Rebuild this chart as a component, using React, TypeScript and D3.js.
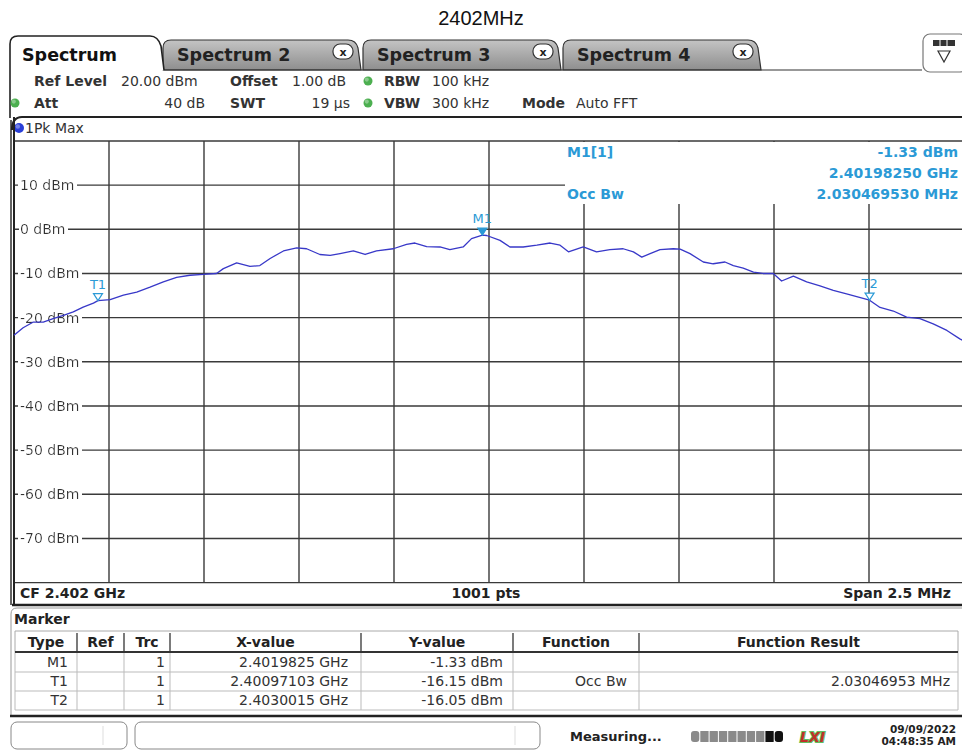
import * as d3 from 'd3';

// trace: offset from CF in MHz, level in dBm
const traceMHz = [
  -1.25, -1.226, -1.199, -1.173, -1.147, -1.12, -1.094, -1.068, -1.041, -1.029,
  -0.997, -0.962, -0.927, -0.892, -0.857, -0.822, -0.787, -0.752, -0.717, -0.699,
  -0.664, -0.629, -0.603, -0.576, -0.541, -0.506, -0.48, -0.445, -0.418, -0.392,
  -0.357, -0.326, -0.296, -0.252, -0.217, -0.195, -0.164, -0.129, -0.103, -0.068,
  -0.046, -0.0175, -0.006, 0.029, 0.055, 0.09, 0.126, 0.161, 0.187, 0.209,
  0.248, 0.283, 0.318, 0.353, 0.38, 0.402, 0.424, 0.45, 0.485, 0.503,
  0.529, 0.564, 0.59, 0.621, 0.643, 0.669, 0.696, 0.721, 0.748, 0.77,
  0.801, 0.836, 0.871, 0.906, 0.941, 1.0015, 1.029, 1.064, 1.099, 1.134,
  1.169, 1.205, 1.239, 1.25,
];
const traceDbm = [
  -24.0, -22.3, -21.0, -21.0, -20.2, -19.5, -18.7, -17.6, -16.7, -16.15,
  -15.9, -14.9, -14.2, -13.1, -11.9, -10.9, -10.4, -10.2, -10.0, -8.9,
  -7.6, -8.4, -8.2, -6.6, -4.9, -4.2, -4.4, -5.7, -5.9, -5.5,
  -4.9, -5.7, -4.9, -4.4, -3.4, -3.1, -3.9, -4.0, -4.6, -4.0,
  -2.1, -1.33, -1.4, -2.5, -4.0, -4.0, -3.6, -3.1, -3.6, -5.1,
  -4.0, -5.1, -4.6, -4.4, -5.1, -6.3, -5.5, -4.6, -4.4, -4.5,
  -5.5, -7.4, -7.8, -7.4, -8.2, -8.8, -9.7, -10.0, -10.0, -11.7,
  -10.6, -11.9, -12.8, -13.8, -14.6, -16.05, -17.7, -18.5, -19.9, -20.2,
  -21.4, -22.9, -24.8, -25.3,
];

const levelTicks = [10, 0, -10, -20, -30, -40, -50, -60, -70];
const levelGrid = [20, 10, 0, -10, -20, -30, -40, -50, -60, -70, -80];
const freqGrid = [-1.0, -0.75, -0.5, -0.25, 0, 0.25, 0.5, 0.75, 1.0];

const centerGHz = 2.402;
const markerNames = ['M1', 'T1', 'T2'];
const markerGHz = [2.4019825, 2.40097103, 2.4030015];
const markerDbm = [-1.33, -16.15, -16.05];
const markerXText = ['2.4019825 GHz', '2.40097103 GHz', '2.4030015 GHz'];
const markerYText = ['-1.33 dBm', '-16.15 dBm', '-16.05 dBm'];
const markerFunc = ['', 'Occ Bw', ''];
const markerResult = ['', '2.03046953 MHz', ''];

const tableHeaders = ['Type', 'Ref', 'Trc', 'X-value', 'Y-value', 'Function', 'Function Result'];
const tabNames = ['Spectrum', 'Spectrum 2', 'Spectrum 3', 'Spectrum 4'];

const font = 'DejaVu Sans, Verdana, sans-serif';
const markerBlue = '#2b9ad6';
const traceBlue = '#3838c8';
const grid = '#3a3a3a';
const textGray = '#333';

function Dot({ cx, cy, color, r = 4.5 }: { cx: number; cy: number; color: string; r?: number }) {
  return (
    <g>
      <circle cx={cx} cy={cy} r={r} fill={color} />
      <circle cx={cx - 1.2} cy={cy - 1.4} r={r * 0.45} fill="#fff" opacity={0.35} />
    </g>
  );
}

export default function App() {
  const W = 962;
  const H = 751;
  const x = d3.scaleLinear([-1.25, 1.25], [14, 964]);
  const y = d3.scaleLinear([-80, 20], [582.6, 141]);
  const points = traceMHz.map((f, i) => [f, traceDbm[i]] as [number, number]);
  const line = d3
    .line<[number, number]>()
    .x((d) => x(d[0]))
    .y((d) => y(d[1]));

  const mx = (g: number) => x((g - centerGHz) * 1000);

  const grayTabs = [163, 363, 563];
  const colEdges = [15, 77, 124, 170, 361, 513, 639, 958];
  const colRight = [68, 114, 165, 348, 503, 627, 950];
  const rowBase = [667, 686, 705];
  const rowLines = [672, 691, 710];

  return (
    <svg
      width={W}
      height={H}
      viewBox={`0 0 ${W} ${H}`}
      style={{ position: 'absolute', left: 0, top: 0, background: '#fff' }}
      fontFamily={font}
    >
      <defs>
        <linearGradient id="tabGray" x1="0" y1="0" x2="0" y2="1">
          <stop offset="0" stopColor="#c4c4c4" />
          <stop offset="1" stopColor="#8e8e8e" />
        </linearGradient>
        <filter id="labelBg" x="-0.02" y="0" width="1.06" height="1">
          <feFlood floodColor="#fff" />
          <feComposite in="SourceGraphic" operator="over" />
        </filter>
      </defs>

      <text x={481} y={25} textAnchor="middle" fontFamily="Liberation Sans, Arial, sans-serif" fontSize={20} fill="#111">
        2402MHz
      </text>

      {/* tabs */}
      {grayTabs.map((x0, i) => {
        const x1 = x0 + 197;
        return (
          <g key={i}>
            <path
              d={`M${x0},70 L${x0},48 Q${x0},40 ${x0 + 8},40 L${x1 - 12},40 Q${x1 - 4},40 ${x1 - 2},48 L${x1 + 1},70 Z`}
              fill="url(#tabGray)"
              stroke="#333"
              strokeWidth={1.2}
            />
            <text x={x0 + 14} y={61} fontSize={17.5} fontWeight="bold" fill="#222">
              {tabNames[i + 1]}
            </text>
            <rect x={x0 + 170} y={44} width={20} height={15} rx={7} fill="#fff" stroke="#333" strokeWidth={1.2} />
            <text x={x0 + 180} y={55.5} textAnchor="middle" fontSize={11} fontWeight="bold" fill="#222">
              x
            </text>
          </g>
        );
      })}
      <line x1={163} x2={922} y1={70} y2={70} stroke="#333" strokeWidth={1.2} />
      <path d="M10,118 L10,44 Q10,36 18,36 L150,36 Q158,36 161,46 L164,70" fill="#fff" stroke="#222" strokeWidth={1.6} />
      <text x={22} y={61} fontSize={17.5} fontWeight="bold" fill="#111">
        {tabNames[0]}
      </text>

      {/* display config icon */}
      <rect x={923} y={34} width={44} height={38} rx={7} fill="#fff" stroke="#777" strokeWidth={1.2} />
      <rect x={933} y={40} width={22} height={6} fill="#333" />
      <line x1={940} x2={940} y1={40} y2={46} stroke="#fff" strokeWidth={1} />
      <line x1={947} x2={947} y1={40} y2={46} stroke="#fff" strokeWidth={1} />
      <path d="M938,51 L950,51 L944,62 Z" fill="none" stroke="#333" strokeWidth={1.2} />

      {/* setting lines */}
      <g fontSize={14} fill={textGray}>
        <text x={34} y={86} fontWeight="bold">Ref Level</text>
        <text x={121} y={86}>20.00 dBm</text>
        <text x={230} y={86} fontWeight="bold">Offset</text>
        <text x={292} y={86}>1.00 dB</text>
        <text x={384} y={86} fontWeight="bold">RBW</text>
        <text x={432} y={86}>100 kHz</text>

        <text x={34} y={108} fontWeight="bold">Att</text>
        <text x={205} y={108} textAnchor="end">40 dB</text>
        <text x={230} y={108} fontWeight="bold">SWT</text>
        <text x={350} y={108} textAnchor="end">19 µs</text>
        <text x={384} y={108} fontWeight="bold">VBW</text>
        <text x={432} y={108}>300 kHz</text>
        <text x={522} y={108} fontWeight="bold">Mode</text>
        <text x={576} y={108}>Auto FFT</text>
      </g>
      <Dot cx={15} cy={103} color="#4caf50" />
      <Dot cx={368} cy={81} color="#4caf50" />
      <Dot cx={368} cy={103} color="#4caf50" />

      {/* plot frame */}
      <path d="M12,130 Q12,117 22,117 L962,117" fill="none" stroke="#222" strokeWidth={2.2} />
      <Dot cx={19} cy={128} color="#2a3fd8" r={5} />
      <text x={25} y={133} fontSize={14} fill={textGray}>1Pk Max</text>

      {/* grid */}
      {levelGrid.map((v) => (
        <line key={`h${v}`} x1={14} x2={964} y1={y(v)} y2={y(v)} stroke={grid} strokeWidth={1.4} />
      ))}
      {freqGrid.map((f) => (
        <line key={`v${f}`} x1={x(f)} x2={x(f)} y1={y(20)} y2={y(-80)} stroke={grid} strokeWidth={1.4} />
      ))}
      <line x1={11} x2={11} y1={120} y2={605} stroke="#222" strokeWidth={1.4} />
      <line x1={14} x2={14} y1={117} y2={605} stroke="#222" strokeWidth={2} />
      <line x1={12} x2={962} y1={605} y2={605} stroke="#222" strokeWidth={2.6} />

      {/* marker info field */}
      <rect x={565} y={y(20) + 1} width={400} height={62} fill="#fff" />
      <g fontSize={14} fontWeight="bold" fill={markerBlue}>
        <text x={567} y={157}>M1[1]</text>
        <text x={958} y={157} textAnchor="end">{`${markerDbm[0].toFixed(2)} dBm`}</text>
        <text x={958} y={178} textAnchor="end">2.40198250 GHz</text>
        <text x={567} y={199}>Occ Bw</text>
        <text x={958} y={199} textAnchor="end">2.030469530 MHz</text>
      </g>

      {/* level labels */}
      {levelTicks.map((v) => (
        <text key={`t${v}`} x={20} y={y(v) + 5} fontSize={14} fill={textGray} filter="url(#labelBg)">
          {`${v} dBm`}
        </text>
      ))}

      {/* trace */}
      <path d={line(points) ?? ''} fill="none" stroke={traceBlue} strokeWidth={1.3} strokeLinejoin="round" />

      {/* markers */}
      {markerNames.map((n, i) => {
        const cx = mx(markerGHz[i]);
        const cy = y(markerDbm[i]);
        const filled = n.startsWith('M');
        return (
          <g key={n}>
            <path
              d={`M${cx - 4.5},${cy - 7} L${cx + 4.5},${cy - 7} L${cx},${cy} Z`}
              fill={filled ? markerBlue : '#fff'}
              stroke={markerBlue}
              strokeWidth={1.2}
            />
            <text x={cx} y={cy - 12} textAnchor="middle" fontSize={13} fill={markerBlue}>
              {n}
            </text>
          </g>
        );
      })}

      {/* footer of diagram */}
      <g fontSize={14} fontWeight="bold" fill="#222">
        <text x={20} y={598}>CF 2.402 GHz</text>
        <text x={486} y={598} textAnchor="middle">1001 pts</text>
        <text x={951} y={598} textAnchor="end">Span 2.5 MHz</text>
      </g>

      {/* marker table */}
      <path d="M11,716 L11,614 Q11,608 17,608 L962,608" fill="none" stroke="#999" strokeWidth={1} />
      <text x={14} y={624} fontSize={14} fontWeight="bold" fill="#222">Marker</text>
      <line x1={15} x2={958} y1={631} y2={631} stroke="#aaa" strokeWidth={1} />
      {colEdges.map((e, i) => (
        <g key={`c${i}`}>
          <line x1={e} x2={e} y1={652} y2={710} stroke="#bbb" strokeWidth={1} />
          {i > 0 && i < colEdges.length - 1 && (
            <line x1={e} x2={e} y1={633} y2={651} stroke="#333" strokeWidth={1.3} />
          )}
        </g>
      ))}
      <line x1={15} x2={15} y1={631} y2={652} stroke="#aaa" strokeWidth={1} />
      <line x1={958} x2={958} y1={631} y2={652} stroke="#aaa" strokeWidth={1} />
      {tableHeaders.map((h, i) => (
        <text
          key={h}
          x={(colEdges[i] + colEdges[i + 1]) / 2}
          y={647}
          textAnchor="middle"
          fontSize={14}
          fontWeight="bold"
          fill="#222"
        >
          {h}
        </text>
      ))}
      <line x1={15} x2={958} y1={652} y2={652} stroke="#333" strokeWidth={2} />
      {rowLines.map((r) => (
        <line key={`r${r}`} x1={15} x2={958} y1={r} y2={r} stroke="#bbb" strokeWidth={1} />
      ))}
      {markerNames.map((n, i) => {
        const cells = [n, '', '1', markerXText[i], markerYText[i], markerFunc[i], markerResult[i]];
        return cells.map((c, j) => (
          <text key={`${n}${j}`} x={colRight[j]} y={rowBase[i]} textAnchor="end" fontSize={14} fill={textGray}>
            {c}
          </text>
        ));
      })}
      <line x1={10} x2={962} y1={716} y2={716} stroke="#222" strokeWidth={2.6} />

      {/* status bar */}
      <rect x={11} y={722} width={116} height={27} rx={6} fill="#fff" stroke="#888" strokeWidth={1} />
      <line x1={103} x2={103} y1={726} y2={745} stroke="#ddd" strokeWidth={1} />
      <rect x={135} y={722} width={405} height={27} rx={6} fill="#fff" stroke="#888" strokeWidth={1} />
      <line x1={515} x2={515} y1={726} y2={745} stroke="#ddd" strokeWidth={1} />
      <text x={570} y={741} fontSize={13} fontWeight="bold" fill="#222">Measuring...</text>
      {d3.range(10).map((i) => (
        <rect
          key={`p${i}`}
          x={691 + i * 9.3}
          y={731}
          width={8.3}
          height={11}
          rx={i === 0 || i === 9 ? 3 : 0.5}
          fill={i >= 8 ? '#111' : '#8a8a8a'}
        />
      ))}
      <text
        x={800}
        y={742}
        fontSize={14}
        fontWeight="bold"
        fontStyle="italic"
        fill="#c0302a"
        stroke="#5fbf5f"
        strokeWidth={2}
        paintOrder="stroke"
      >
        LXI
      </text>
      <g fontSize={10.5} fontWeight="bold" fill="#222" textAnchor="end">
        <text x={956} y={733}>09/09/2022</text>
        <text x={956} y={745}>04:48:35 AM</text>
      </g>
    </svg>
  );
}
